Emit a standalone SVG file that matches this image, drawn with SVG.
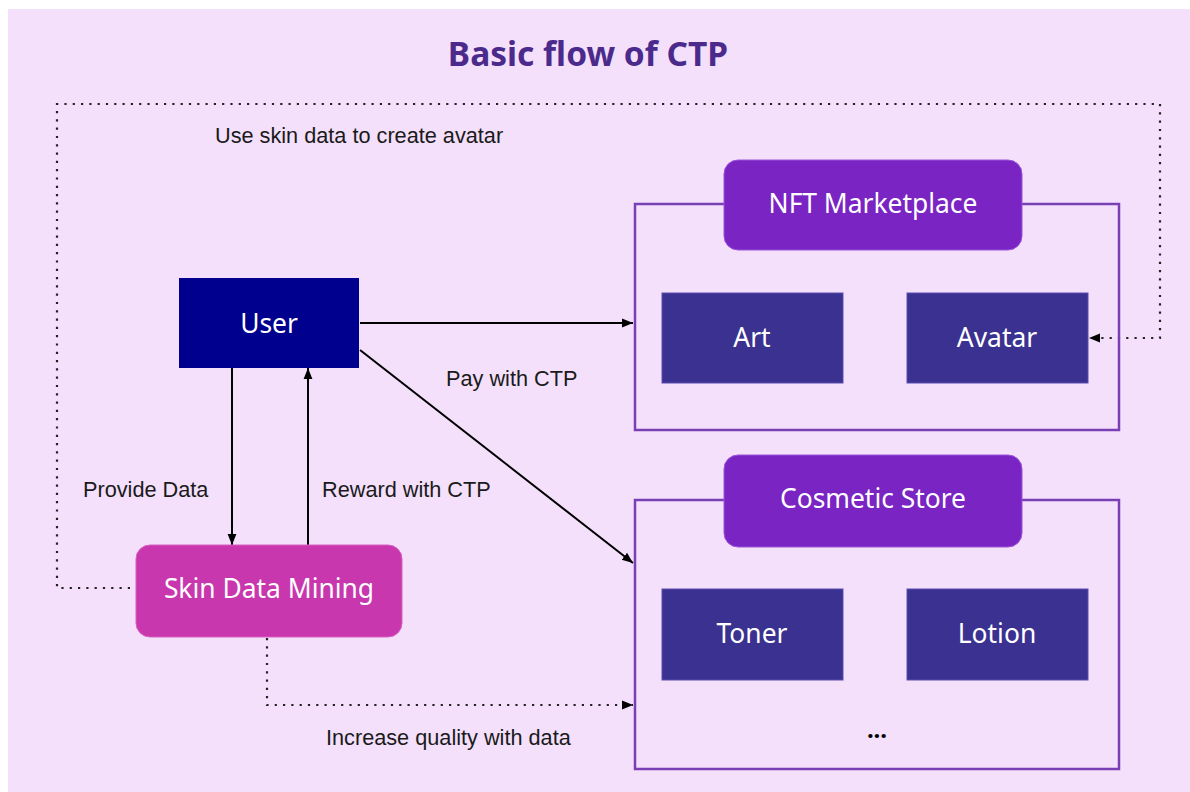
<svg xmlns="http://www.w3.org/2000/svg" width="1190" height="792" viewBox="0 0 1190 792">
<defs>
<style>
.node{font-family:"Noto Sans","Open Sans",sans-serif;font-size:26.4px;fill:#ffffff;text-anchor:middle}
.lbl{font-family:"Liberation Sans",Arial,sans-serif;font-size:21.7px;fill:#1a1a1a}
.item{fill:#3a3190;stroke:#5a4fb0;stroke-width:1}
.hdr{fill:#7a24c4;stroke:#9a55d8;stroke-width:1}
.box{fill:none;stroke:#7a3fb5;stroke-width:2.5}
.ln{fill:none;stroke:#000;stroke-width:2}
.dot{fill:none;stroke:#222;stroke-width:2.2;stroke-dasharray:2.2 6.1}
</style>
<marker id="ah" viewBox="0 0 10 10" refX="10" refY="5" markerWidth="11" markerHeight="11" markerUnits="userSpaceOnUse" orient="auto">
<path d="M0,1 L10,5 L0,9 Z" fill="#000"/>
</marker>
</defs>
<rect x="0" y="0" width="1190" height="792" fill="#ffffff"/>
<rect x="8" y="9" width="1182" height="783" fill="#f4e0fb"/>
<text x="588" y="66" font-family="'Noto Sans','Open Sans',sans-serif" font-size="33.5" font-weight="bold" fill="#4b2a8c" text-anchor="middle">Basic flow of CTP</text>

<g id="connectors">
<line class="ln" x1="360" y1="323" x2="633" y2="323" marker-end="url(#ah)"/>
<line class="ln" x1="360" y1="350" x2="633" y2="563" marker-end="url(#ah)"/>
<line class="ln" x1="232" y1="368" x2="232" y2="545" marker-end="url(#ah)"/>
<line class="ln" x1="308" y1="545" x2="308" y2="368" marker-end="url(#ah)"/>
<path class="dot" d="M267,638 V705 H633" marker-end="url(#ah)"/>
<path class="dot" d="M130,588 H57 V104 H1160 V338 H1089" marker-end="url(#ah)"/>
<text class="lbl" x="215" y="143">Use skin data to create avatar</text>
<text class="lbl" x="446" y="386">Pay with CTP</text>
<text class="lbl" x="83" y="497">Provide Data</text>
<text class="lbl" x="322" y="497">Reward with CTP</text>
<text class="lbl" x="326" y="745">Increase quality with data</text>
</g>

<g id="user">
<rect x="179" y="278" width="180" height="90" fill="#00008f"/>
<text class="node" x="269" y="333">User</text>
</g>

<g id="skin-data-mining">
<rect x="136" y="545" width="266" height="92" rx="14" fill="#c837ae" stroke="#d860c0" stroke-width="1"/>
<text class="node" x="269" y="598">Skin Data Mining</text>
</g>

<g id="nft-marketplace">
<rect class="box" x="635" y="204" width="484" height="226"/>
<rect class="hdr" x="724" y="160" width="298" height="90" rx="14"/>
<text class="node" x="873" y="213">NFT Marketplace</text>
</g>
<g id="art">
<rect class="item" x="662" y="293" width="181" height="90"/>
<text class="node" x="752" y="347">Art</text>
</g>
<g id="avatar">
<rect class="item" x="907" y="293" width="181" height="90"/>
<text class="node" x="997" y="347">Avatar</text>
</g>

<g id="cosmetic-store">
<rect class="box" x="635" y="500" width="484" height="269"/>
<rect class="hdr" x="724" y="455" width="298" height="92" rx="14"/>
<text class="node" x="873" y="508">Cosmetic Store</text>
<text x="877" y="738" font-family="'Noto Sans',sans-serif" font-size="24" font-weight="bold" fill="#000" text-anchor="middle">...</text>
</g>
<g id="toner">
<rect class="item" x="662" y="589" width="181" height="91"/>
<text class="node" x="752" y="643">Toner</text>
</g>
<g id="lotion">
<rect class="item" x="907" y="589" width="181" height="91"/>
<text class="node" x="997" y="643">Lotion</text>
</g>
</svg>
